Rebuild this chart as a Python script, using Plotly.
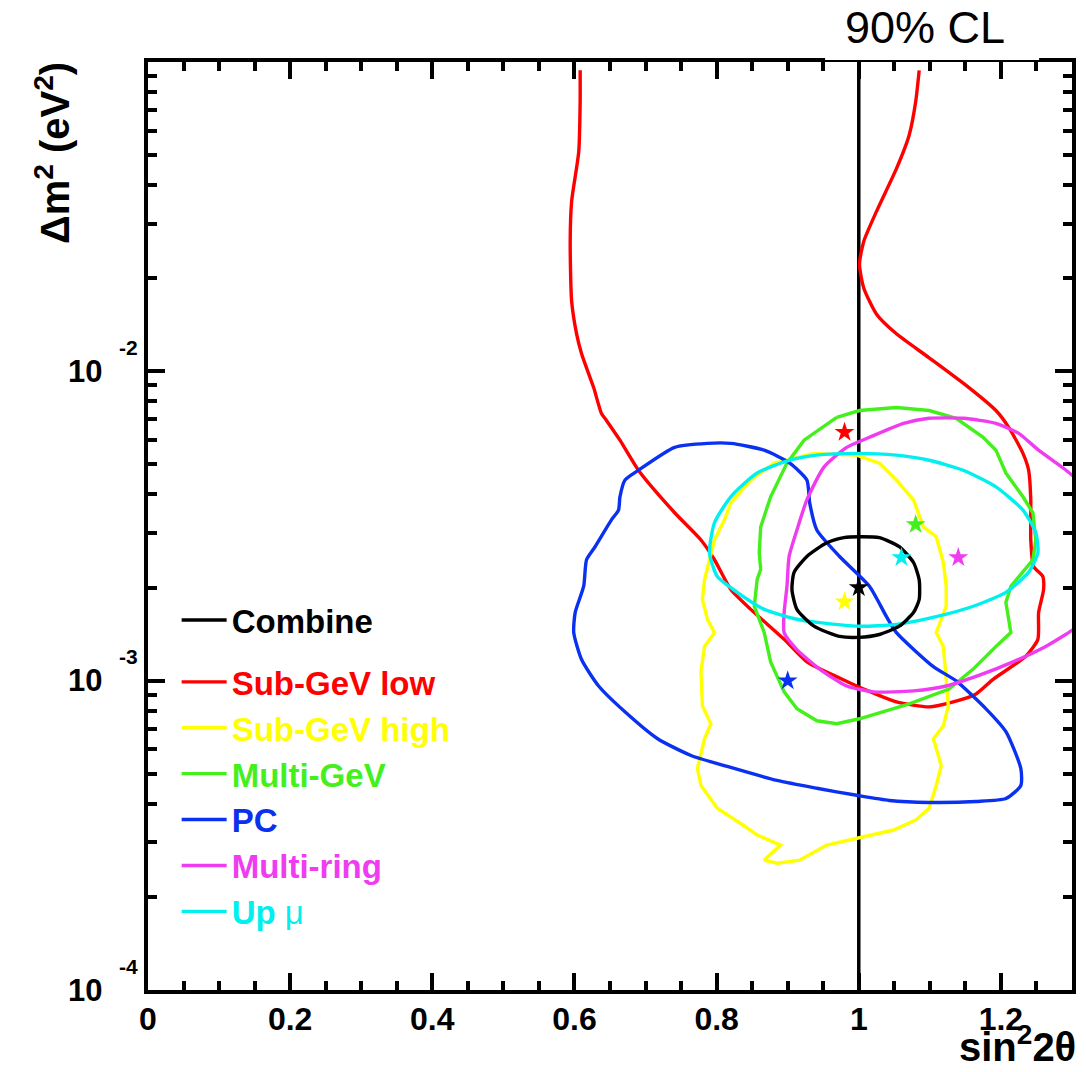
import numpy as np
import plotly.graph_objects as go

FONT = "Liberation Sans, Arial, Helvetica, sans-serif"

# ---- 90% CL allowed regions: sin^2(2theta) vs delta m^2 [eV^2] ----
combine_s2 = [1.000, 1.029, 1.057, 1.077, 1.085, 1.085, 1.077, 1.057, 1.029, 1.000,
              0.973, 0.937, 0.913, 0.906, 0.909, 0.927, 0.955, 0.979, 1.000]
combine_dm2 = [2.92e-3, 2.90e-3, 2.71e-3, 2.41e-3, 2.12e-3, 1.83e-3, 1.66e-3, 1.50e-3, 1.41e-3, 1.38e-3,
               1.39e-3, 1.50e-3, 1.70e-3, 1.97e-3, 2.24e-3, 2.52e-3, 2.79e-3, 2.90e-3, 2.92e-3]

subgev_low_s2 = [0.608, 0.608, 0.606, 0.596, 0.594, 0.596, 0.603, 0.610, 0.627, 0.638,
                 0.645, 0.664, 0.690, 0.741, 0.778, 0.797, 0.820, 0.848, 0.895, 0.927,
                 0.965, 0.997, 1.007, 1.053, 1.099, 1.133, 1.165, 1.189, 1.235, 1.252,
                 1.253, 1.260, 1.259, 1.246, 1.242, 1.242, 1.239, 1.231, 1.211, 1.193,
                 1.155, 1.099, 1.053, 1.025, 1.007, 1.001, 1.007, 1.025, 1.053, 1.071,
                 1.080, 1.085]
subgev_low_dm2 = [0.0940, 0.0742, 0.0512, 0.0354, 0.0263, 0.0169, 0.01322, 0.01140, 0.00886, 0.00731,
                  0.00694, 0.00599, 0.00479, 0.00349, 0.00285, 0.00246, 0.00197, 0.00170, 0.00136, 0.00115,
                  0.00104, 0.000961, 0.000940, 0.000854, 0.000823, 0.000854, 0.000906, 0.00101, 0.00120, 0.00136,
                  0.00166, 0.00197, 0.00217, 0.00234, 0.00285, 0.00384, 0.00479, 0.00543, 0.00659, 0.00747,
                  0.00886, 0.01106, 0.01322, 0.0153, 0.0186, 0.0222, 0.0263, 0.0329, 0.0452, 0.0581,
                  0.0742, 0.0940]

subgev_high_s2 = [0.937, 0.997, 1.029, 1.053, 1.077, 1.091, 1.109, 1.119, 1.123, 1.123,
                  1.109, 1.119, 1.123, 1.126, 1.119, 1.105, 1.116, 1.109, 1.099, 1.080,
                  1.049, 1.001, 0.955, 0.917, 0.885, 0.867, 0.890, 0.857, 0.839, 0.801,
                  0.778, 0.773, 0.783, 0.792, 0.780, 0.778, 0.783, 0.797, 0.787, 0.780,
                  0.783, 0.790, 0.797, 0.811, 0.820, 0.848, 0.881, 0.937]
subgev_high_dm2 = [0.00543, 0.00536, 0.00505, 0.00445, 0.00384, 0.00314, 0.00292, 0.00241, 0.00202, 0.00174,
                   0.00143, 0.00129, 0.00101, 0.000829, 0.000715, 0.000649, 0.000532, 0.000458, 0.000387, 0.000354,
                   0.000329, 0.000310, 0.000294, 0.000263, 0.000257, 0.000263, 0.000294, 0.000317, 0.000339, 0.000387,
                   0.000458, 0.000520, 0.000649, 0.000726, 0.000829, 0.00107, 0.00129, 0.00143, 0.00158, 0.00183,
                   0.00212, 0.00246, 0.00285, 0.00331, 0.00375, 0.00445, 0.00505, 0.00543]

multigev_s2 = [0.969, 1.001, 1.053, 1.099, 1.137, 1.175, 1.193, 1.207, 1.231, 1.245,
               1.249, 1.245, 1.214, 1.207, 1.214, 1.193, 1.161, 1.127, 1.071, 1.001,
               0.969, 0.941, 0.913, 0.895, 0.876, 0.867, 0.853, 0.857, 0.862, 0.860,
               0.862, 0.876, 0.899, 0.923, 0.969]
multigev_dm2 = [0.00710, 0.00747, 0.00764, 0.00747, 0.00705, 0.00612, 0.00556, 0.00469, 0.00393, 0.00349,
                0.00285, 0.00246, 0.00202, 0.00179, 0.00143, 0.00129, 0.00109, 0.000940, 0.000842, 0.000753,
                0.000726, 0.000742, 0.000811, 0.000920, 0.00115, 0.00143, 0.00174, 0.00212, 0.00229, 0.00259,
                0.00314, 0.00393, 0.00505, 0.00599, 0.00710]

pc_s2 = [0.787, 0.820, 0.867, 0.903, 0.927, 0.931, 0.941, 0.973, 1.015, 1.039,
         1.053, 1.105, 1.137, 1.179, 1.207, 1.228, 1.228, 1.207, 1.165, 1.099,
         1.043, 0.997, 0.941, 0.885, 0.815, 0.764, 0.717, 0.671, 0.634, 0.610,
         0.599, 0.601, 0.613, 0.617, 0.629, 0.652, 0.662, 0.664, 0.671, 0.690,
         0.741, 0.787]
pc_dm2 = [0.00585, 0.00585, 0.00556, 0.00505, 0.00445, 0.00375, 0.00307, 0.00252, 0.00202, 0.00161,
          0.00143, 0.00111, 0.000998, 0.000811, 0.000684, 0.000520, 0.000458, 0.000416, 0.000407, 0.000404,
          0.000410, 0.000426, 0.000449, 0.000476, 0.000528, 0.000573, 0.000649, 0.000793, 0.000961, 0.00117,
          0.00143, 0.00166, 0.00202, 0.00246, 0.00271, 0.00331, 0.00356, 0.00393, 0.00445, 0.00479,
          0.00568, 0.00585]

multiring_s2 = [1.301, 1.288, 1.253, 1.225, 1.193, 1.147, 1.099, 1.063, 1.015, 0.983,
                0.951, 0.927, 0.913, 0.902, 0.899, 0.895, 0.895, 0.913, 0.945, 0.983,
                1.021, 1.077, 1.123, 1.169, 1.217, 1.263, 1.291, 1.301]
multiring_dm2 = [0.00460, 0.00486, 0.00556, 0.00630, 0.00679, 0.00705, 0.00705, 0.00679, 0.00612, 0.00568,
                 0.00490, 0.00384, 0.00307, 0.00252, 0.00202, 0.00166, 0.00143, 0.00126, 0.00109, 0.000961,
                 0.000920, 0.000927, 0.000961, 0.00104, 0.00115, 0.00129, 0.00141, 0.00146]

upmu_s2 = [0.997, 1.053, 1.099, 1.147, 1.193, 1.231, 1.249, 1.252, 1.239, 1.207,
           1.161, 1.109, 1.053, 1.001, 0.945, 0.913, 0.867, 0.829, 0.801, 0.790,
           0.797, 0.820, 0.857, 0.903, 0.941, 0.997]
upmu_dm2 = [0.00543, 0.00536, 0.00516, 0.00479, 0.00423, 0.00356, 0.00301, 0.00259, 0.00224, 0.00193,
            0.00174, 0.00161, 0.00152, 0.00150, 0.00154, 0.00158, 0.00170, 0.00193, 0.00217, 0.00259,
            0.00324, 0.00393, 0.00469, 0.00516, 0.00536, 0.00543]

# best-fit points, same order as the samples below
sample_names = ["Combine", "Sub-GeV low", "Sub-GeV high", "Multi-GeV", "PC", "Multi-ring", "Up \u03bc"]
sample_colors = ["#000000", "#ff0000", "#ffff00", "#44f01c", "#0a30f0", "#f03cf0", "#00f0f0"]
best_s2 = [1.00, 0.98, 0.98, 1.08, 0.90, 1.14, 1.06]
best_dm2 = [2.0e-3, 6.35e-3, 1.8e-3, 3.2e-3, 1.0e-3, 2.5e-3, 2.5e-3]

# maximal mixing line
maxmix_s2 = [1.0, 1.0]
maxmix_dm2 = [1e-4, 1e-1]

# axes
x_range = [0.0, 1.3]
x_ticks = [0.0, 0.2, 0.4, 0.6, 0.8, 1.0, 1.2]
x_ticktext = ["0", "0.2", "0.4", "0.6", "0.8", "1", "1.2"]
y_range_log = [-4, -1]
y_major = [1e-4, 1e-3, 1e-2]
y_exponents = ["-4", "-3", "-2"]
y_minor = [m * d for d in (1e-4, 1e-3, 1e-2) for m in range(2, 10)]

contours = [
    (combine_s2, combine_dm2, "spline"),
    (subgev_low_s2, subgev_low_dm2, "spline"),
    (subgev_high_s2, subgev_high_dm2, "linear"),
    (multigev_s2, multigev_dm2, "linear"),
    (pc_s2, pc_dm2, "spline"),
    (multiring_s2, multiring_dm2, "spline"),
    (upmu_s2, upmu_dm2, "spline"),
]

fig = go.Figure()

fig.add_trace(go.Scatter(x=maxmix_s2, y=maxmix_dm2, mode="lines",
                         line=dict(color="black", width=3.5),
                         showlegend=False, hoverinfo="skip"))

# draw the individual samples first, combined contour last (on top)
draw_order = [1, 2, 3, 4, 5, 6, 0]
for i in draw_order:
    xs, ys, shape = contours[i]
    name = sample_names[i]
    col = sample_colors[i]
    if name.startswith("Up"):
        label = (f"<span style='color:{col}'>Up </span>"
                 f"<span style='color:{col};font-weight:normal'>\u03bc</span>")
    else:
        label = f"<span style='color:{col}'>{name}</span>"
    fig.add_trace(go.Scatter(
        x=xs, y=ys, mode="lines", name=label,
        line=dict(color=col, width=3.4, shape=shape, smoothing=0.6),
        legendgroup="combined" if i == 0 else "samples",
        legendrank=100 + i,
        hoverinfo="skip",
    ))

for i in range(len(sample_names)):
    fig.add_trace(go.Scatter(
        x=[best_s2[i]], y=[best_dm2[i]], mode="markers",
        marker=dict(symbol="star", size=15, color=sample_colors[i], line=dict(width=0)),
        showlegend=False, hoverinfo="skip",
    ))

annotations = []
# y tick labels in "10^n" style
for v, e in zip(y_major, y_exponents):
    annotations.append(dict(text="10", xref="paper", yref="y", x=-0.068, y=np.log10(v),
                            xanchor="center", yanchor="middle", showarrow=False,
                            font=dict(family=FONT, size=31, color="black", weight="bold")))
    annotations.append(dict(text=e, xref="paper", yref="y", x=-0.034, y=np.log10(v),
                            xanchor="left", yanchor="middle", yshift=24, showarrow=False,
                            font=dict(family=FONT, size=21, color="black", weight="bold")))

annotations.append(dict(text="\u0394m<sup>2</sup> (eV<sup>2</sup>)", xref="paper", yref="paper",
                        x=-0.103, y=1.002, xanchor="center", yanchor="top", textangle=-90,
                        showarrow=False,
                        font=dict(family=FONT, size=40, color="black", weight="bold")))
annotations.append(dict(text="sin<sup>2</sup>2\u03b8", xref="paper", yref="paper",
                        x=1.0065, y=-0.0878, xanchor="right", yanchor="bottom",
                        showarrow=False,
                        font=dict(family=FONT, size=40, color="black", weight="bold")))
annotations.append(dict(text="90% CL", xref="paper", yref="paper",
                        x=0.8405, y=1.0377, xanchor="center", yanchor="middle",
                        showarrow=False,
                        font=dict(family=FONT, size=45, color="black")))

fig.update_layout(
    width=1086, height=1072,
    margin=dict(l=148, r=10, t=62, b=82),
    paper_bgcolor="white", plot_bgcolor="white",
    font=dict(family=FONT, color="black"),
    annotations=annotations,
    shapes=[dict(type="rect", xref="paper", yref="paper",
                 x0=0.7328, x1=0.9644, y0=1.0022, y1=1.06,
                 fillcolor="white", line=dict(width=0), layer="above")],
    legend=dict(x=0.031, y=0.4289, xanchor="left", yanchor="top",
                bgcolor="rgba(0,0,0,0)", borderwidth=0,
                traceorder="grouped", tracegroupgap=16, itemwidth=45,
                font=dict(family=FONT, size=33, color="black", weight="bold")),
    showlegend=True,
)

fig.update_xaxes(
    range=x_range, showgrid=False, zeroline=False,
    showline=True, linewidth=4, linecolor="black", mirror="allticks",
    ticks="inside", ticklen=17, tickwidth=4, tickcolor="black",
    tickvals=x_ticks, ticktext=x_ticktext, ticklabelstandoff=-2,
    tickfont=dict(family=FONT, size=32, color="black", weight="bold"),
    minor=dict(ticks="inside", ticklen=9, tickwidth=4, tickcolor="black", dtick=0.05, showgrid=False),
)
fig.update_yaxes(
    type="log", range=y_range_log, showgrid=False, zeroline=False,
    showline=True, linewidth=4, linecolor="black", mirror="allticks",
    ticks="inside", ticklen=17, tickwidth=4, tickcolor="black",
    tickvals=y_major, showticklabels=False,
    minor=dict(ticks="inside", ticklen=9, tickwidth=4, tickcolor="black",
               tickvals=y_minor, showgrid=False),
)

fig.write_html("out.html")
